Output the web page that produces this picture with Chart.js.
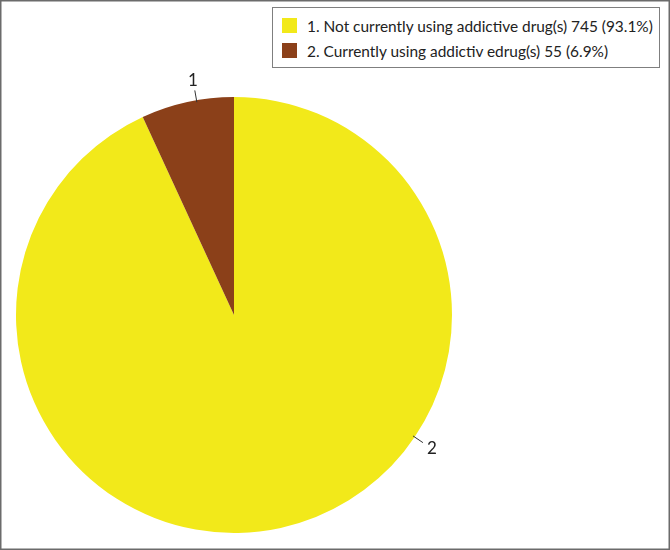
<!DOCTYPE html>
<html>
<head>
<meta charset="utf-8">
<script src="https://cdn.jsdelivr.net/npm/chart.js@4/dist/chart.umd.min.js"></script>
<style>
  body{margin:0;background:#fff;}
  #wrap{position:relative;width:670px;height:550px;}
  #legend{position:absolute;left:272px;top:7px;width:388px;height:61px;box-sizing:border-box;
    border:1px solid #7f7f7f;background:#fff;font-family:Lato,"Open Sans",sans-serif;font-size:16px;color:#222;
    padding:5px 0 0 9px;overflow:hidden;}
  .item{display:flex;align-items:center;height:25px;white-space:nowrap;}
  .sw{width:15px;height:15px;margin-right:10px;flex-shrink:0;}
</style>
</head>
<body>
<div id="wrap">
  <canvas id="pie" width="670" height="550"></canvas>
  <div id="legend"></div>
</div>
<script>
const categories = ["1. Not currently using addictive drug(s)", "2. Currently using addictiv edrug(s)"];
const counts = [745, 55];
const percents = ["93.1%", "6.9%"];
const sliceLabels = ["2", "1"];
const colors = ["#F2E91A", "#8B4019"];

// legend as real html text
const legend = document.getElementById('legend');
const texts = [];
categories.forEach((c, i) => {
  const row = document.createElement('div');
  row.className = 'item';
  row.innerHTML = `<span class="sw" style="background:${colors[i]}"></span><span class="tx">${c} ${counts[i]} (${percents[i]})</span>`;
  legend.appendChild(row);
  texts.push(row.querySelector('.tx'));
});
// fit first legend line to ~346px like the original
const w0 = texts[0].getBoundingClientRect().width;
legend.style.fontSize = (16 * 346 / w0).toFixed(2) + 'px';

// where along each slice the outside label sits (fraction of the arc)
const labelPos = [0.37, 0.6];

const sliceLabelPlugin = {
  id: 'sliceLabels',
  afterDatasetsDraw(chart){
    const ctx = chart.ctx;
    const meta = chart.getDatasetMeta(0);
    ctx.save();
    ctx.strokeStyle = '#333';
    ctx.lineWidth = 1;
    ctx.fillStyle = '#222';
    ctx.font = '17px Lato, "Open Sans", sans-serif';
    ctx.textAlign = 'center';
    ctx.textBaseline = 'middle';
    meta.data.forEach((arc, i) => {
      const a = arc.startAngle + (arc.endAngle - arc.startAngle) * labelPos[i];
      const r = arc.outerRadius;
      const cx = Math.cos(a), cy = Math.sin(a);
      ctx.beginPath();
      ctx.moveTo(arc.x + cx * (r - 2), arc.y + cy * (r - 2));
      ctx.lineTo(arc.x + cx * (r + 10), arc.y + cy * (r + 10));
      ctx.stroke();
      ctx.fillText(sliceLabels[i], arc.x + cx * (r + 21), arc.y + cy * (r + 20));
    });
    ctx.restore();
  }
};

const borderPlugin = {
  id: 'frame',
  afterDraw(chart){
    const ctx = chart.ctx;
    ctx.save();
    ctx.strokeStyle = '#6b6b6b';
    ctx.lineWidth = 1.5;
    ctx.strokeRect(0.75, 0.75, chart.width - 1.5, chart.height - 1.5);
    ctx.restore();
  }
};

new Chart(document.getElementById('pie'), {
  type: 'pie',
  data: {
    labels: categories,
    datasets: [{
      data: counts,
      backgroundColor: colors,
      borderWidth: 0
    }]
  },
  options: {
    responsive: false,
    animation: false,
    layout: { padding: { left: 16, right: 218, top: 97, bottom: 17 } },
    plugins: { legend: { display: false }, tooltip: { enabled: false } }
  },
  plugins: [sliceLabelPlugin, borderPlugin]
});
</script>
</body>
</html>
